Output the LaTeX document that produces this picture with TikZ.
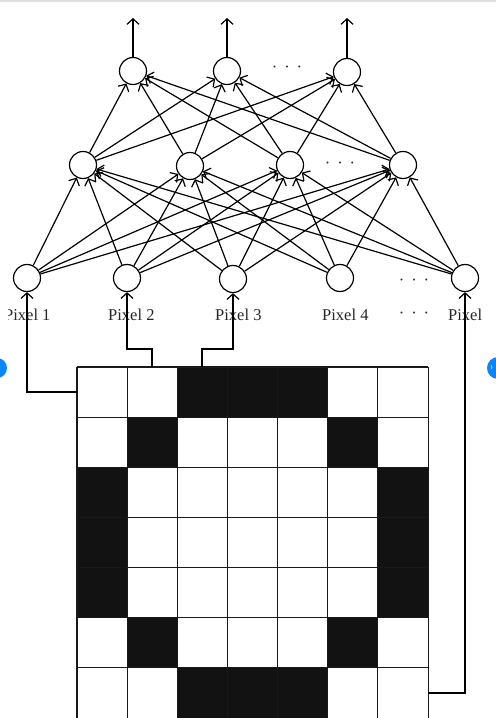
\documentclass[tikz,border=0pt]{standalone}
\usepackage{fontspec}
\setmainfont{Liberation Serif}
\usetikzlibrary{arrows.meta}
\definecolor{navblue}{RGB}{10,132,255}
\begin{document}
\begin{tikzpicture}[x=1bp,y=-1bp,
  neuron/.style={circle,draw,line width=1.2bp,minimum size=27bp,inner sep=0pt,fill=white},
  conn/.style={line width=1.2bp,-{Straight Barb[length=5.5bp,width=12bp,line width=1.2bp]}},
  lbl/.style={font=\fontsize{16.5bp}{18bp}\selectfont,anchor=base west,inner sep=0pt,text=black!85},
  dotsrow/.style={font=\fontsize{16.5bp}{18bp}\selectfont,anchor=base,inner sep=0pt,text=black!85},
  gridline/.style={line width=1.1bp,black!90},
  blk/.style={fill=black!93}]
\useasboundingbox (0,0) rectangle (496,718);
% page artefacts
\draw[line width=2bp,black!12] (0,1) -- (496,1);
\fill[navblue] (-3,368) circle (10);
\fill[navblue] (498,368) circle (11);
\node[text=white,font=\fontsize{9bp}{9bp}\selectfont\sffamily,inner sep=0pt] (nav) at (492,368) {›};
\begin{scope}
\clip (8,4) rectangle (481,718);
% ---------- pixel grid ----------
\def\gx{77}\def\gy{367}\def\cs{50.15}
\foreach \c/\r in {2/0,3/0,4/0,1/1,5/1,0/2,6/2,0/3,6/3,0/4,6/4,1/5,5/5,2/6,3/6,4/6}
  \fill[blk] ({\gx+\c*\cs},{\gy+\r*\cs}) rectangle ++(\cs,\cs);
\foreach \k in {0,...,7} {
  \draw[gridline] ({\gx+\k*\cs},\gy) -- ({\gx+\k*\cs},{\gy+7*\cs});
  \draw[gridline] (\gx,{\gy+\k*\cs}) -- ({\gx+7*\cs},{\gy+\k*\cs});
}
% ---------- neurons ----------
\node[neuron] (i1) at (27,278) {};
\node[neuron] (i2) at (127,278) {};
\node[neuron] (i3) at (233,279) {};
\node[neuron] (i4) at (340,278) {};
\node[neuron] (i5) at (465,278) {};
\node[neuron] (h1) at (83,165) {};
\node[neuron] (h2) at (190,166) {};
\node[neuron] (h3) at (290,165) {};
\node[neuron] (h4) at (403,165) {};
\node[neuron] (o1) at (133,71) {};
\node[neuron] (o2) at (227,71) {};
\node[neuron] (o3) at (347,72) {};
\coordinate (t1) at (133,18);
\coordinate (t2) at (227,18);
\coordinate (t3) at (347,18);
% ---------- connections ----------
\foreach \i in {i1,i2,i3,i4,i5}
  \foreach \h in {h1,h2,h3,h4}
    \draw[conn] (\i) -- (\h);
\foreach \h in {h1,h2,h3,h4}
  \foreach \o in {o1,o2,o3}
    \draw[conn] (\h) -- (\o);
\draw[conn] (o1) -- (t1);
\draw[conn] (o2) -- (t2);
\draw[conn] (o3) -- (t3);
% ---------- dots ----------
\node[dotsrow] (d1) at (287,73) {·\hspace{7bp}·\hspace{7bp}·};
\node[dotsrow] (d2) at (340,168) {·\hspace{7bp}·\hspace{7bp}·};
\node[dotsrow] (d3) at (414,285) {·\hspace{7bp}·\hspace{7bp}·};
\node[dotsrow] (d4) at (414,318) {·\hspace{7bp}·\hspace{7bp}·};
% ---------- labels ----------
\node[lbl] (l1) at (4,320) {Pixel 1};
\node[lbl] (l2) at (108,320) {Pixel 2};
\node[lbl] (l3) at (215,320) {Pixel 3};
\node[lbl] (l4) at (322,320) {Pixel 4};
\node[lbl] (l5) at (448,320) {Pixel n};
% ---------- grid to input connectors ----------
\coordinate (p1) at (77,392);
\coordinate (p2) at (152,367);
\coordinate (p2b) at (152,349);
\coordinate (p3) at (202,367);
\coordinate (p3b) at (202,349);
\coordinate (p5) at (428,693);
\draw[conn] (p1) -| (i1);
\draw[conn] (p2) -- (p2b) -| (i2);
\draw[conn] (p3) -- (p3b) -| (i3);
\draw[conn] (p5) -| (i5);
\end{scope}
\end{tikzpicture}
\end{document}
